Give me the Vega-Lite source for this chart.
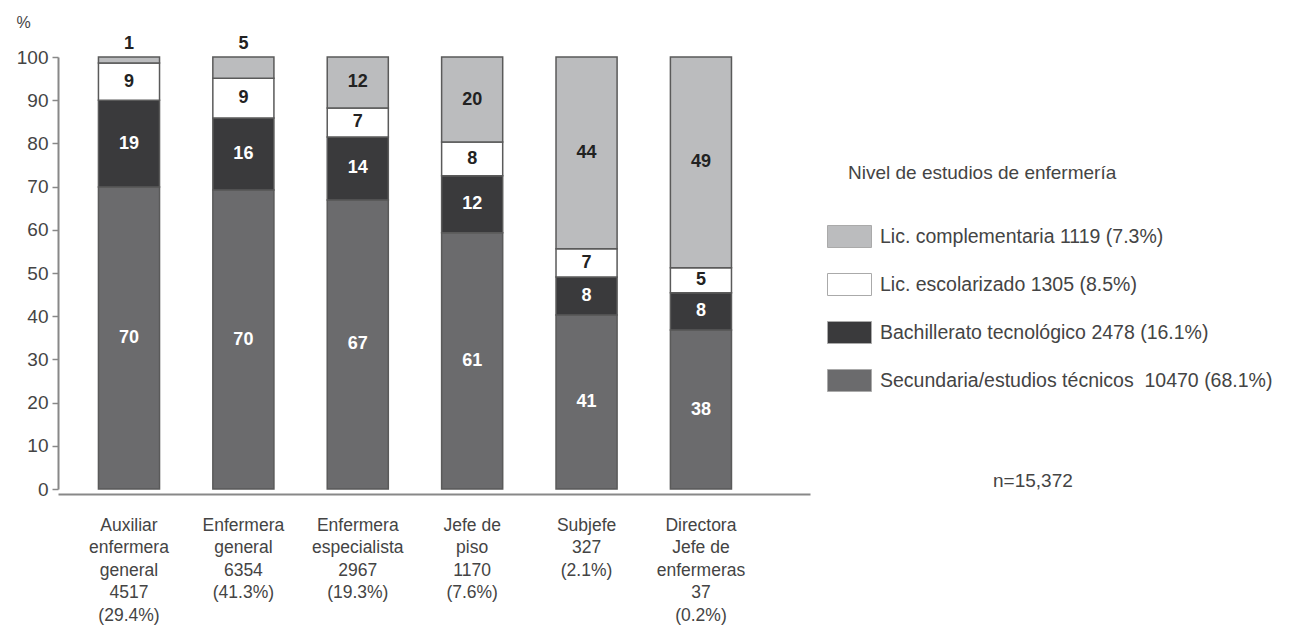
{
  "$schema": "https://vega.github.io/schema/vega-lite/v6.json",
  "width": 752,
  "height": 432,
  "autosize": {"type": "none"},
  "padding": {"left": 58, "top": 57, "right": 496, "bottom": 138},
  "background": "white",
  "config": {"font": "Liberation Sans", "view": {"stroke": null}},
  "title": {"text": "n=15,372", "orient": "top", "anchor": "start", "frame": "group", "dx": 935, "dy": 481, "fontSize": 19, "fontWeight": "normal", "color": "#444"},
  "data": {"values": [
    {"cat": "Auxiliar|enfermera|general|4517|(29.4%)", "nivel": "Secundaria/estudios técnicos\u00a0 10470 (68.1%)", "ord": 1, "value": 69.9, "label": "70"},
    {"cat": "Auxiliar|enfermera|general|4517|(29.4%)", "nivel": "Bachillerato tecnológico 2478 (16.1%)", "ord": 2, "value": 20.1, "label": "19"},
    {"cat": "Auxiliar|enfermera|general|4517|(29.4%)", "nivel": "Lic. escolarizado 1305 (8.5%)", "ord": 3, "value": 8.6, "label": "9"},
    {"cat": "Auxiliar|enfermera|general|4517|(29.4%)", "nivel": "Lic. complementaria 1119 (7.3%)", "ord": 4, "value": 1.4, "label": "1"},
    {"cat": "Enfermera|general|6354|(41.3%)", "nivel": "Secundaria/estudios técnicos\u00a0 10470 (68.1%)", "ord": 1, "value": 69.2, "label": "70"},
    {"cat": "Enfermera|general|6354|(41.3%)", "nivel": "Bachillerato tecnológico 2478 (16.1%)", "ord": 2, "value": 16.7, "label": "16"},
    {"cat": "Enfermera|general|6354|(41.3%)", "nivel": "Lic. escolarizado 1305 (8.5%)", "ord": 3, "value": 9.2, "label": "9"},
    {"cat": "Enfermera|general|6354|(41.3%)", "nivel": "Lic. complementaria 1119 (7.3%)", "ord": 4, "value": 4.9, "label": "5"},
    {"cat": "Enfermera|especialista|2967|(19.3%)", "nivel": "Secundaria/estudios técnicos\u00a0 10470 (68.1%)", "ord": 1, "value": 66.9, "label": "67"},
    {"cat": "Enfermera|especialista|2967|(19.3%)", "nivel": "Bachillerato tecnológico 2478 (16.1%)", "ord": 2, "value": 14.6, "label": "14"},
    {"cat": "Enfermera|especialista|2967|(19.3%)", "nivel": "Lic. escolarizado 1305 (8.5%)", "ord": 3, "value": 6.7, "label": "7"},
    {"cat": "Enfermera|especialista|2967|(19.3%)", "nivel": "Lic. complementaria 1119 (7.3%)", "ord": 4, "value": 11.8, "label": "12"},
    {"cat": "Jefe de|piso|1170|(7.6%)", "nivel": "Secundaria/estudios técnicos\u00a0 10470 (68.1%)", "ord": 1, "value": 59.3, "label": "61"},
    {"cat": "Jefe de|piso|1170|(7.6%)", "nivel": "Bachillerato tecnológico 2478 (16.1%)", "ord": 2, "value": 13.2, "label": "12"},
    {"cat": "Jefe de|piso|1170|(7.6%)", "nivel": "Lic. escolarizado 1305 (8.5%)", "ord": 3, "value": 7.8, "label": "8"},
    {"cat": "Jefe de|piso|1170|(7.6%)", "nivel": "Lic. complementaria 1119 (7.3%)", "ord": 4, "value": 19.7, "label": "20"},
    {"cat": "Subjefe|327|(2.1%)", "nivel": "Secundaria/estudios técnicos\u00a0 10470 (68.1%)", "ord": 1, "value": 40.3, "label": "41"},
    {"cat": "Subjefe|327|(2.1%)", "nivel": "Bachillerato tecnológico 2478 (16.1%)", "ord": 2, "value": 8.8, "label": "8"},
    {"cat": "Subjefe|327|(2.1%)", "nivel": "Lic. escolarizado 1305 (8.5%)", "ord": 3, "value": 6.5, "label": "7"},
    {"cat": "Subjefe|327|(2.1%)", "nivel": "Lic. complementaria 1119 (7.3%)", "ord": 4, "value": 44.4, "label": "44"},
    {"cat": "Directora|Jefe de|enfermeras|37|(0.2%)", "nivel": "Secundaria/estudios técnicos\u00a0 10470 (68.1%)", "ord": 1, "value": 36.8, "label": "38"},
    {"cat": "Directora|Jefe de|enfermeras|37|(0.2%)", "nivel": "Bachillerato tecnológico 2478 (16.1%)", "ord": 2, "value": 8.6, "label": "8"},
    {"cat": "Directora|Jefe de|enfermeras|37|(0.2%)", "nivel": "Lic. escolarizado 1305 (8.5%)", "ord": 3, "value": 5.8, "label": "5"},
    {"cat": "Directora|Jefe de|enfermeras|37|(0.2%)", "nivel": "Lic. complementaria 1119 (7.3%)", "ord": 4, "value": 48.8, "label": "49"}
  ]},
  "encoding": {
    "x": {
      "field": "cat", "type": "nominal", "sort": null,
      "scale": {"paddingInner": 0.466, "paddingOuter": 0.52, "align": 0.34},
      "axis": {
        "title": null, "labelExpr": "split(datum.label, '|')", "labelAngle": 0,
        "labelFontSize": 17.5, "labelLineHeight": 22.5, "labelColor": "#444",
        "labelPadding": 22, "ticks": false, "domainColor": "#888", "domainWidth": 2, "offset": 5
      }
    }
  },
  "layer": [
    {
      "mark": {"type": "bar", "stroke": "#5a5a5a", "strokeWidth": 1.5},
      "encoding": {
        "y": {
          "field": "value", "type": "quantitative", "stack": "zero",
          "scale": {"domain": [0, 100], "nice": false},
          "axis": {
            "values": [0, 10, 20, 30, 40, 50, 60, 70, 80, 90, 100],
            "title": "%", "titleAngle": 0, "titleX": -42, "titleY": -35,
            "titleAlign": "left", "titleBaseline": "middle", "titleFontSize": 16,
            "titleFontWeight": "normal", "titleColor": "#444",
            "labelFontSize": 19, "labelColor": "#444", "grid": false,
            "domainColor": "#888", "domainWidth": 2, "tickColor": "#888",
            "tickWidth": 1.5, "tickSize": 6, "labelPadding": 4
          }
        },
        "color": {
          "field": "nivel", "type": "nominal",
          "scale": {
            "domain": ["Lic. complementaria 1119 (7.3%)", "Lic. escolarizado 1305 (8.5%)", "Bachillerato tecnológico 2478 (16.1%)", "Secundaria/estudios técnicos\u00a0 10470 (68.1%)"],
            "range": ["#bbbcbe", "#ffffff", "#3a3a3c", "#6b6b6d"]
          },
          "legend": {
            "orient": "none", "legendX": 790, "legendY": 107, "padding": 0,
            "title": "Nivel de estudios de enfermería",
            "titleFontSize": 19, "titleFontWeight": "normal", "titleColor": "#444",
            "titleLimit": 600, "titlePadding": 31,
            "labelFontSize": 19.5, "labelColor": "#444", "labelOffset": 8,
            "symbolOffset": -21,
            "symbolType": "M-1,-0.5H1V0.5H-1Z", "symbolSize": 1936,
            "symbolStrokeColor": "#aaa", "symbolStrokeWidth": 1, "symbolOpacity": 1,
            "rowPadding": 12, "labelLimit": 600
          }
        },
        "order": {"field": "ord", "type": "quantitative"}
      }
    },
    {
      "transform": [
        {"stack": "value", "groupby": ["cat"], "sort": [{"field": "ord"}], "as": ["y0", "y1"]},
        {"calculate": "datum.ord == 4 && datum.value <= 6 ? 103 : (datum.y0 + datum.y1) / 2", "as": "mid"}
      ],
      "mark": {"type": "text", "fontWeight": "bold", "fontSize": 18},
      "encoding": {
        "y": {"field": "mid", "type": "quantitative", "scale": {"domain": [0, 100], "nice": false}},
        "text": {"field": "label"},
        "color": {"condition": {"test": "datum.ord <= 2", "value": "#ffffff"}, "value": "#222222"}
      }
    }
  ]
}
